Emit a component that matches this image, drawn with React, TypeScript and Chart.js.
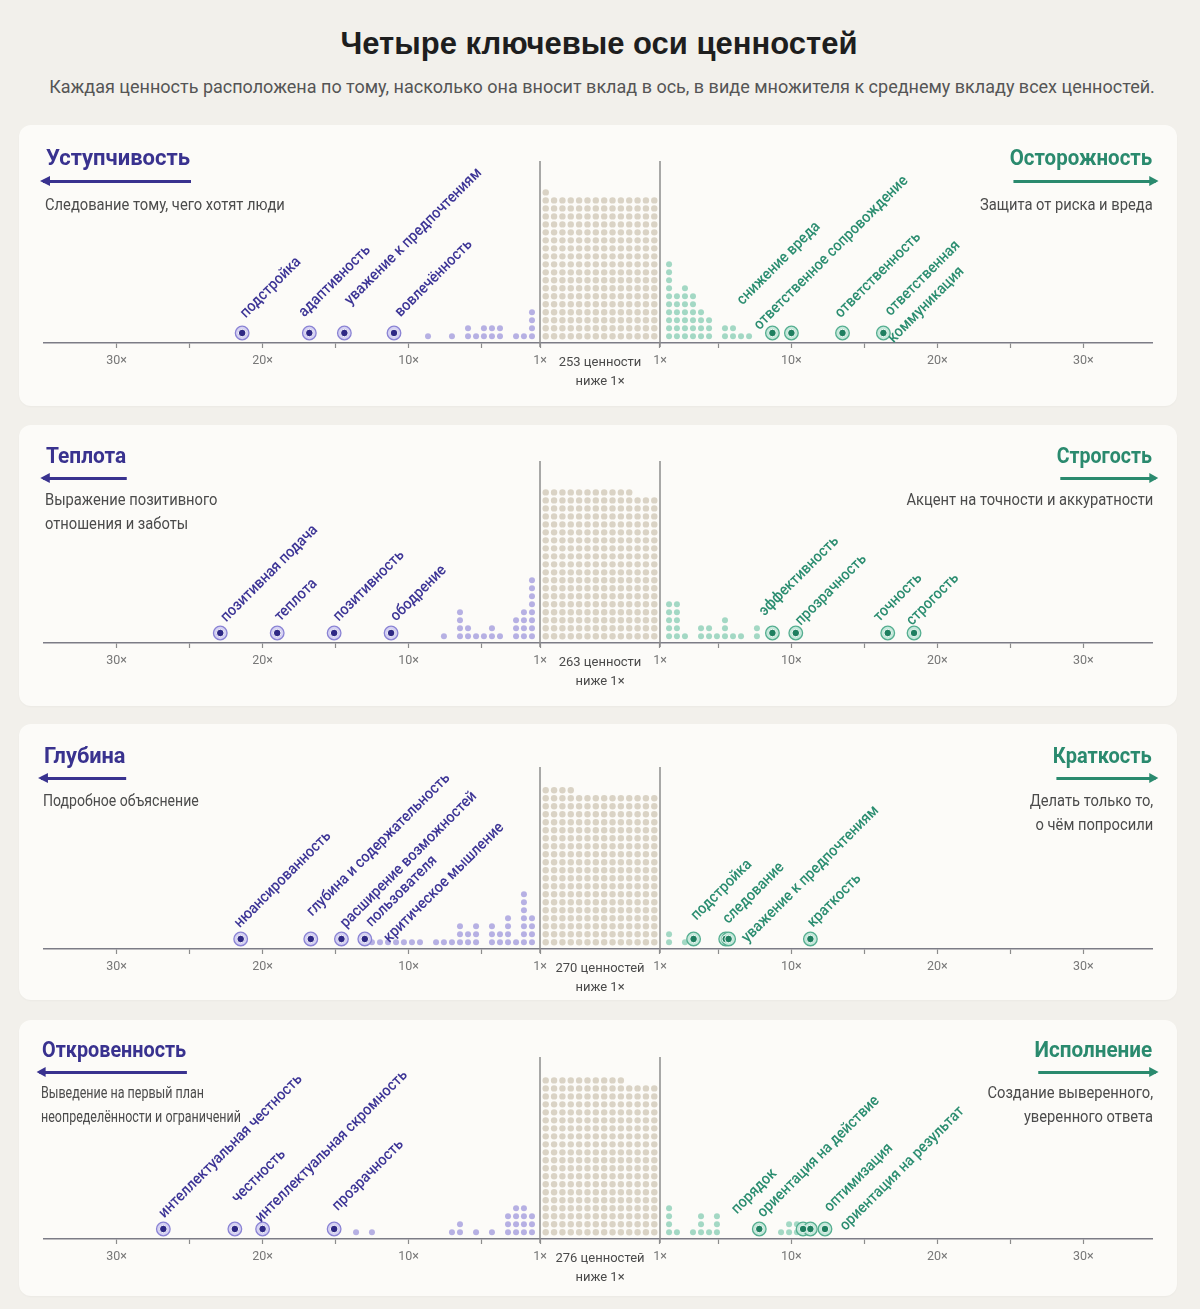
import React, { useEffect, useRef } from 'react';
import { Chart, registerables } from 'chart.js';

Chart.register(...registerables);

// ---------- look ----------
const PAGE_BG = '#f2f0eb';
const CARD_BG = '#fcfbf8';
const SANS = 'Roboto, "Liberation Sans", Arial, sans-serif';
const HEADING = '"Liberation Sans", Arial, Helvetica, sans-serif';
const PURPLE = '#39328f';
const GREEN = '#2a8a6e';
const PURPLE_LABEL = '#3d3596';
const GREEN_LABEL = '#2b8d70';
const TEXT_SQUEEZE = 0.92;

if (typeof document !== 'undefined') {
  document.body.style.margin = '0';
  document.body.style.background = PAGE_BG;
}

// ---------- text ----------
const pageTitle = 'Четыре ключевые оси ценностей';
const pageSubtitle =
  'Каждая ценность расположена по тому, насколько она вносит вклад в ось, в виде множителя к среднему вкладу всех ценностей.';

const leftPoles = ['Уступчивость', 'Теплота', 'Глубина', 'Откровенность'];
const rightPoles = ['Осторожность', 'Строгость', 'Краткость', 'Исполнение'];
const leftNotes = [
  ['Следование тому, чего хотят люди'],
  ['Выражение позитивного', 'отношения и заботы'],
  ['Подробное объяснение'],
  ['Выведение на первый план', 'неопределённости и ограничений'],
];
const rightNotes = [
  ['Защита от риска и вреда'],
  ['Акцент на точности и аккуратности'],
  ['Делать только то,', 'о чём попросили'],
  ['Создание выверенного,', 'уверенного ответа'],
];

// ---------- data ----------
// number of values whose contribution is below 1× of the mean
const belowOneCounts = [253, 263, 270, 276];
const belowOneWords = ['ценности', 'ценности', 'ценностей', 'ценностей'];

// axis ticks (multipliers), drawn mirrored on both sides
const tickMultipliers = [30, 25, 20, 15, 10, 5, 1];
const tickTexts = ['30×', '', '20×', '', '10×', '', '1×'];

// Уступчивость ↔ Осторожность
const p1LeftOther = [1.55, 1.55, 1.55, 1.55, 2.1, 2.64, 3.74, 3.74, 4.29, 4.29, 4.84, 4.84, 5.38, 5.93, 5.93, 7.03, 8.67];
const p1RightOther = [
  1.62, 1.62, 1.62, 1.62, 1.62, 1.62, 1.62, 1.62, 1.62, 1.62,
  2.16, 2.16, 2.16, 2.16, 2.16, 2.16,
  2.71, 2.71, 2.71, 2.71, 2.71, 2.71, 2.71,
  3.26, 3.26, 3.26, 3.26, 3.26, 3.26,
  3.81, 3.81, 3.81, 3.81,
  4.36, 4.36, 4.36,
  5.45, 5.45, 6.0, 6.0, 6.55, 7.1,
];
const p1LeftNames = ['подстройка', 'адаптивность', 'уважение к предпочтениям', 'вовлечённость'];
const p1LeftValues = [21.4, 16.8, 14.4, 11.0];
const p1RightNames = ['снижение вреда', 'ответственное сопровождение', 'ответственность', 'ответственная\nкоммуникация'];
const p1RightValues = [8.7, 10.0, 13.5, 16.3];

// Теплота ↔ Строгость
const p2LeftOther = [
  1.55, 1.55, 1.55, 1.55, 1.55, 1.55, 1.55, 1.55,
  2.1, 2.1, 2.1, 2.1,
  2.64, 2.64, 2.64,
  3.74, 4.29, 4.29, 4.84, 5.38, 5.93, 5.93,
  6.48, 6.48, 6.48, 6.48,
  7.58,
];
const p2RightOther = [
  1.62, 1.62, 1.62, 1.62, 1.62,
  2.16, 2.16, 2.16, 2.16, 2.16,
  2.71, 3.81, 3.81, 4.36, 4.36, 4.9,
  5.45, 5.45, 5.45, 6.0, 6.55, 7.64, 7.64,
];
const p2LeftNames = ['позитивная подача', 'теплота', 'позитивность', 'ободрение'];
const p2LeftValues = [22.9, 19.0, 15.1, 11.2];
const p2RightNames = ['эффективность', 'прозрачность', 'точность', 'строгость'];
const p2RightValues = [8.7, 10.3, 16.6, 18.4];

// Глубина ↔ Краткость
const p3LeftOther = [
  1.55, 1.55, 1.55, 1.55,
  2.1, 2.1, 2.1, 2.1, 2.1, 2.1, 2.1,
  2.64,
  3.19, 3.19, 3.19, 3.19,
  3.74, 3.74,
  4.29, 4.29, 4.29,
  5.38, 5.38, 5.38,
  5.93, 5.93,
  6.48, 6.48, 6.48,
  7.03, 7.58, 8.12, 9.22, 9.77, 10.32, 10.86, 11.41, 11.96, 12.51,
];
const p3RightOther = [1.62, 1.62, 2.71, 3.26];
const p3LeftNames = ['нюансированность', 'глубина и содержательность', 'расширение возможностей\nпользователя', 'критическое мышление'];
const p3LeftValues = [21.5, 16.7, 14.6, 13.0];
const p3RightNames = ['подстройка', 'следование', 'уважение к предпочтениям', 'краткость'];
const p3RightValues = [3.3, 5.5, 5.7, 11.3];

// Откровенность ↔ Исполнение
const p4LeftOther = [
  1.55, 1.55, 1.55,
  2.1, 2.1, 2.1, 2.1,
  2.64, 2.64, 2.64, 2.64,
  3.19, 3.19, 3.19,
  4.29, 5.38, 6.48, 6.48, 7.03, 12.51, 13.6,
];
const p4RightOther = [
  1.62, 1.62, 1.62, 1.62,
  2.16, 3.26,
  3.81, 3.81, 3.81,
  4.36,
  4.9, 4.9, 4.9,
  9.29, 9.84, 9.84, 10.38, 10.38,
];
const p4LeftNames = ['интеллектуальная честность', 'честность', 'интеллектуальная скромность', 'прозрачность'];
const p4LeftValues = [26.8, 21.9, 20.0, 15.1];
const p4RightNames = ['порядок', 'ориентация на действие', 'оптимизация', 'ориентация на результат'];
const p4RightValues = [7.8, 10.8, 11.3, 12.3];

const leftOther = [p1LeftOther, p2LeftOther, p3LeftOther, p4LeftOther];
const rightOther = [p1RightOther, p2RightOther, p3RightOther, p4RightOther];
const leftNames = [p1LeftNames, p2LeftNames, p3LeftNames, p4LeftNames];
const leftValues = [p1LeftValues, p2LeftValues, p3LeftValues, p4LeftValues];
const rightNames = [p1RightNames, p2RightNames, p3RightNames, p4RightNames];
const rightValues = [p1RightValues, p2RightValues, p3RightValues, p4RightValues];

// ---------- layout ----------
const CARD_LEFT = 19;
const CARD_WIDTH = 1158;
const cardTops = [125, 425, 724, 1020];
const cardHeights = [281, 281, 276, 276];
const axisOffsets = [218, 218, 225, 219];
const headingY = [33, 31, 32, 30];
const arrowY = [56, 53, 54, 52];
const noteY = [80, 75, 77, 73];
const leftInset = [27, 27, 25, 23];
const leftHeadingSqueeze = [1.0, 0.95, 0.99, 0.9];
const rightHeadingSqueeze = [0.93, 0.89, 0.91, 0.94];
const leftNoteSqueeze = [0.92, 0.92, 0.88, 0.78];
const rightNoteSqueeze = [0.92, 0.92, 0.92, 0.92];

const PX_PER_STEP = 14.6; // pixels per 1× of multiplier
const HALF_GAP = 60 / PX_PER_STEP; // half width of the below-1× block, in axis units
const AXIS_CENTER = 581; // inside the card
const PLOT_PAD = 25;
const X_MIN = -(AXIS_CENTER - PLOT_PAD) / PX_PER_STEP;
const X_MAX = (CARD_WIDTH - PLOT_PAD - AXIS_CENTER) / PX_PER_STEP;
const ROW_PX = 8.3;
const BASE_ROW = 7 / ROW_PX;
const NAMED_ROW = 10.4 / ROW_PX;
const BLOCK_COLS = 14;
const BLOCK_STEP = 8.35 / PX_PER_STEP;
const DIVIDER_HEIGHT = 182;

// label nudges (dx, dy in px from the marker, one pair per text line)
const leftNudges = [
  [[[3.5, -14.6]], [[-5, -15.6]], [[6, -27.6]], [[6.5, -15.6]]],
  [[[6, -10.5]], [[3, -11.2]], [[4.5, -11.2]], [[5, -11.2]]],
  [[[-1, -10.6]], [[1.5, -22.2]], [[4.4, -10.6], [30, -11.6]], [[24.5, 4.2]]],
  [[[1, -10.6]], [[2.6, -25.6]], [[-1.8, -6.1]], [[3.7, -17.8]]],
];
const rightNudges = [
  [[[-30, -27.6]], [[-32, -2.6]], [[-2, -14.6]], [[7, -16.6], [10, 10.4]]],
  [[[-8, -16.6]], [[5, -7]], [[-8.5, -10.8]], [[-2, -7]]],
  [[[3, -18.2]], [[2.6, -14.6]], [[18.7, 4.1]], [[2.6, -11.2]]],
  [[[-22.3, -14.6]], [[-40, -10.9]], [[19.3, -16.6]], [[20.4, 2.2]]],
];

// multiplier -> axis position (the two sides are split by the below-1× block)
const toAxis = (v: number, side: number) => side * (HALF_GAP + v - 1);

function stacked(values: number[], side: number) {
  const seen = new Map<number, number>();
  return values.map((v) => {
    const n = seen.get(v) ?? 0;
    seen.set(v, n + 1);
    return { x: toAxis(v, side), y: BASE_ROW + n };
  });
}

function blockGrid(count: number) {
  const pts: { x: number; y: number }[] = [];
  for (let i = 0; i < count; i++) {
    const col = i % BLOCK_COLS;
    const row = Math.floor(i / BLOCK_COLS);
    pts.push({ x: (col - (BLOCK_COLS - 1) / 2) * BLOCK_STEP, y: BASE_ROW + row });
  }
  return pts;
}

function buildConfig(i: number): any {
  const tickPositions = [
    ...tickMultipliers.map((m) => toAxis(m, -1)),
    0,
    ...tickMultipliers.slice().reverse().map((m) => toAxis(m, 1)),
  ];
  const tickLabels: (string | string[])[] = [
    ...tickTexts,
    [`${belowOneCounts[i]} ${belowOneWords[i]}`, 'ниже 1×'],
    ...tickTexts.slice().reverse(),
  ];
  const CENTER = tickMultipliers.length;

  const named = (values: number[], side: number) => values.map((v) => ({ x: toAxis(v, side), y: NAMED_ROW }));

  const overlay = {
    id: 'axisOverlay',
    beforeDatasetsDraw(chart: any) {
      const { ctx, chartArea, scales } = chart;
      ctx.save();
      ctx.strokeStyle = '#8d8d8d';
      ctx.lineWidth = 1.5;
      [-1, 1].forEach((s) => {
        const px = scales.x.getPixelForValue(toAxis(1, s));
        ctx.beginPath();
        ctx.moveTo(px, chartArea.bottom + 4);
        ctx.lineTo(px, chartArea.bottom - DIVIDER_HEIGHT);
        ctx.stroke();
      });
      ctx.restore();
    },
    afterDatasetsDraw(chart: any) {
      const { ctx, scales } = chart;
      const draw = (names: string[], values: number[], nudges: number[][][], side: number, color: string) => {
        ctx.save();
        ctx.fillStyle = color;
        ctx.font = `500 15.5px ${SANS}`;
        ctx.textAlign = 'left';
        ctx.textBaseline = 'alphabetic';
        names.forEach((name, k) => {
          const px = scales.x.getPixelForValue(toAxis(values[k], side));
          const py = scales.y.getPixelForValue(NAMED_ROW);
          name.split('\n').forEach((line, j) => {
            const [dx, dy] = nudges[k][j];
            ctx.save();
            ctx.translate(px + dx, py + dy);
            ctx.rotate(-Math.PI / 4);
            ctx.scale(TEXT_SQUEEZE, 1);
            ctx.fillText(line, 0, 0);
            ctx.restore();
          });
        });
        ctx.restore();
      };
      draw(leftNames[i], leftValues[i], leftNudges[i], -1, PURPLE_LABEL);
      draw(rightNames[i], rightValues[i], rightNudges[i], 1, GREEN_LABEL);
    },
  };

  return {
    type: 'scatter',
    data: {
      datasets: [
        { order: 6, data: blockGrid(belowOneCounts[i]), pointRadius: 3.2, backgroundColor: '#dad3c5', borderWidth: 0 },
        { order: 5, data: stacked(leftOther[i], -1), pointRadius: 3, backgroundColor: '#b6b0e3', borderWidth: 0 },
        { order: 4, data: stacked(rightOther[i], 1), pointRadius: 3, backgroundColor: '#a3d8c4', borderWidth: 0 },
        { order: 3, data: named(leftValues[i], -1), pointRadius: 6.8, backgroundColor: '#d5d1f3', borderColor: '#8a83d4', borderWidth: 1.3 },
        { order: 2, data: named(leftValues[i], -1), pointRadius: 3.8, backgroundColor: '#2f2985', borderColor: '#f3f2fb', borderWidth: 1 },
        { order: 1, data: named(rightValues[i], 1), pointRadius: 6.8, backgroundColor: '#c4e8da', borderColor: '#55ae90', borderWidth: 1.3 },
        { order: 0, data: named(rightValues[i], 1), pointRadius: 3.8, backgroundColor: '#1f7f60', borderColor: '#effaf5', borderWidth: 1 },
      ],
    },
    options: {
      animation: false,
      responsive: false,
      events: [],
      layout: { padding: { left: PLOT_PAD, right: PLOT_PAD, top: 0, bottom: 0 } },
      plugins: { legend: { display: false }, tooltip: { enabled: false } },
      scales: {
        x: {
          type: 'linear',
          min: X_MIN,
          max: X_MAX,
          afterBuildTicks: (s: any) => {
            s.ticks = tickPositions.map((value) => ({ value }));
          },
          afterFit: (s: any) => {
            s.height = cardHeights[i] - axisOffsets[i];
          },
          ticks: {
            autoSkip: false,
            maxRotation: 0,
            minRotation: 0,
            padding: 5,
            callback: (_v: number, idx: number) => tickLabels[idx],
            color: (c: any) => (c.index === CENTER ? '#4a4a4a' : '#777777'),
            font: (c: any) =>
              c.index === CENTER
                ? { family: SANS, size: 13, lineHeight: 1.45 }
                : { family: SANS, size: 12.5, lineHeight: 1.2 },
          },
          grid: {
            drawOnChartArea: false,
            drawTicks: true,
            tickLength: 5,
            tickWidth: 1.2,
            tickColor: (c: any) => (c.index === CENTER ? 'rgba(0,0,0,0)' : '#8c8c8c'),
          },
          border: { display: true, color: '#7c7c86', width: 1.5 },
        },
        y: { type: 'linear', display: false, min: 0, max: axisOffsets[i] / ROW_PX },
      },
    },
    plugins: [overlay],
  };
}

function PoleHeading({ text, side, i }: { text: string; side: 'left' | 'right'; i: number }) {
  const color = side === 'left' ? PURPLE : GREEN;
  const isLeft = side === 'left';
  const top = headingY[i] - 13;
  const squeeze = isLeft ? leftHeadingSqueeze[i] : rightHeadingSqueeze[i];
  return (
    <div
      style={
        {
          position: 'absolute',
          top,
          [side]: isLeft ? leftInset[i] : 25,
          zIndex: 2,
          transform: `scaleX(${squeeze})`,
          transformOrigin: isLeft ? 'left center' : 'right center',
        } as any
      }
    >
      <div style={{ position: 'relative', font: `700 22px/26px ${SANS}`, color, whiteSpace: 'nowrap' }}>
        {text}
        <div
          style={{
            position: 'absolute',
            top: arrowY[i] - top - 1.5,
            height: 3,
            background: color,
            left: isLeft ? -3 : 4,
            right: isLeft ? -1 : -4,
          }}
        >
          <div
            style={
              {
                position: 'absolute',
                top: -3.5,
                width: 0,
                height: 0,
                borderTop: '5px solid transparent',
                borderBottom: '5px solid transparent',
                [isLeft ? 'borderRight' : 'borderLeft']: `10px solid ${color}`,
                [side]: -3,
              } as any
            }
          />
        </div>
      </div>
    </div>
  );
}

function PoleNote({ lines, side, i }: { lines: string[]; side: 'left' | 'right'; i: number }) {
  const isLeft = side === 'left';
  const squeeze = isLeft ? leftNoteSqueeze[i] : rightNoteSqueeze[i];
  return (
    <div
      style={
        {
          position: 'absolute',
          top: noteY[i] - 12,
          [side]: isLeft ? leftInset[i] - 1 : 24,
          font: `400 16px/24px ${SANS}`,
          color: '#4b4b4b',
          textAlign: side,
          whiteSpace: 'nowrap',
          transform: `scaleX(${squeeze})`,
          transformOrigin: isLeft ? 'left center' : 'right center',
          zIndex: 2,
        } as any
      }
    >
      {lines.map((l) => (
        <div key={l}>{l}</div>
      ))}
    </div>
  );
}

function AxisCard({ i }: { i: number }) {
  const canvasRef = useRef<HTMLCanvasElement>(null);
  useEffect(() => {
    const chart = new Chart(canvasRef.current as HTMLCanvasElement, buildConfig(i));
    return () => chart.destroy();
  }, [i]);
  return (
    <div
      style={{
        position: 'absolute',
        left: CARD_LEFT,
        top: cardTops[i],
        width: CARD_WIDTH,
        height: cardHeights[i],
        background: CARD_BG,
        borderRadius: 12,
        boxShadow: '0 1px 2px rgba(0,0,0,0.03)',
      }}
    >
      <canvas
        ref={canvasRef}
        width={CARD_WIDTH}
        height={cardHeights[i]}
        style={{ position: 'absolute', left: 0, top: 0, width: CARD_WIDTH, height: cardHeights[i] }}
      />
      <PoleHeading text={leftPoles[i]} side="left" i={i} />
      <PoleHeading text={rightPoles[i]} side="right" i={i} />
      <PoleNote lines={leftNotes[i]} side="left" i={i} />
      <PoleNote lines={rightNotes[i]} side="right" i={i} />
    </div>
  );
}

export default function App() {
  return (
    <div style={{ position: 'relative', width: 1200, height: 1309, background: PAGE_BG, overflow: 'hidden' }}>
      <div
        style={{
          position: 'absolute',
          top: 26,
          left: 0,
          width: 1198,
          textAlign: 'center',
          font: `700 31px/36px ${HEADING}`,
          color: '#1e1e1e',
        }}
      >
        {pageTitle}
      </div>
      <div
        style={{
          position: 'absolute',
          top: 76,
          left: 0,
          width: 1204,
          textAlign: 'center',
          font: `400 18px/22px ${SANS}`,
          color: '#555555',
        }}
      >
        {pageSubtitle}
      </div>
      {[0, 1, 2, 3].map((i) => (
        <AxisCard key={i} i={i} />
      ))}
    </div>
  );
}
